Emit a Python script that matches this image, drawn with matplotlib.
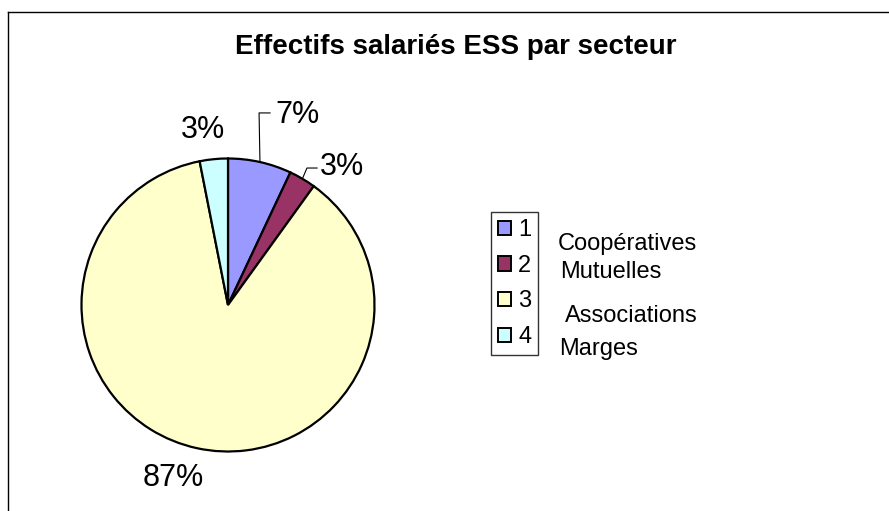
import numpy as np
import matplotlib
matplotlib.use("Agg")
from matplotlib import pyplot as plt
from matplotlib.lines import Line2D
from matplotlib.patches import Patch

plt.rcParams['font.family'] = ['Liberation Sans', 'DejaVu Sans']

title = "Effectifs salariés ESS par secteur"
sectors = ["Coopératives", "Mutuelles", "Associations", "Marges"]
legend_ids = ["1", "2", "3", "4"]
shares = [7.0, 2.95, 86.95, 3.1]
colors = ["#9999FF", "#993366", "#FFFFCC", "#CCFFFF"]

W, H = 889, 511
fig = plt.figure(figsize=(W / 100, H / 100), dpi=100)

# pie centre / radius in pixels
cx, cy, rad = 228, 305, 146.5
half = 220
ax = fig.add_axes([(cx - half) / W, (H - cy - half) / H, 2 * half / W, 2 * half / H])

wedges, _ = ax.pie(shares, colors=colors, startangle=90, counterclock=False,
                   radius=1, wedgeprops=dict(edgecolor='black', linewidth=1.6))
ax.set_xlim(-half / rad, half / rad)
ax.set_ylim(-half / rad, half / rad)
ax.set_aspect('equal')
ax.axis('off')

# percentage labels (Excel positions), same order as shares
label_pos = [(0.32, 1.297), (0.63, 0.942), (-0.375, -1.181), (-0.171, 1.195)]
label_ha = ['left', 'left', 'center', 'center']
for w, val, pos, ha in zip(wedges, shares, label_pos, label_ha):
    ax.text(pos[0], pos[1], "%d%%" % round(val), fontsize=22, ha=ha, va='center',
            clip_on=False)

# leader lines for the two small slices on the right
elbows = {0: [(0.212, 1.311), (0.287, 1.311)], 1: [(0.539, 0.935), (0.608, 0.935)]}
for i, pts in elbows.items():
    w = wedges[i]
    mid = np.deg2rad((w.theta1 + w.theta2) / 2)
    xs = [np.cos(mid)] + [p[0] for p in pts]
    ys = [np.sin(mid)] + [p[1] for p in pts]
    ax.plot(xs, ys, color='black', lw=0.8, clip_on=False)

fig.text(456 / W, 1 - 47 / H, title, fontsize=20, fontweight='bold',
         ha='center', va='center')

handles = [Patch(facecolor=c, edgecolor='black', linewidth=1.4) for c in colors]
leg = fig.legend(handles, legend_ids, loc='upper left',
                 bbox_to_anchor=(491 / W, 1 - 212 / H), fontsize=17,
                 frameon=True, fancybox=False, borderaxespad=0,
                 handlelength=0.55, handleheight=0.55, handletextpad=0.3,
                 labelspacing=0.58, borderpad=0.3)
leg.get_frame().set_edgecolor('black')
leg.get_frame().set_linewidth(1.0)

name_pos = [(558, 244), (560, 272), (565, 316), (559, 349)]
for name, (x, y) in zip(sectors, name_pos):
    fig.text(x / W, 1 - y / H, name, fontsize=17, ha='left', va='center')

# chart area border (cropped at right and bottom)
fig.add_artist(Line2D([8 / W, 8 / W], [0, 1 - 12 / H], color='black', lw=1,
                      transform=fig.transFigure))
fig.add_artist(Line2D([8 / W, 1], [1 - 12 / H, 1 - 12 / H], color='black', lw=1,
                      transform=fig.transFigure))

fig.savefig("out.png", dpi=100)
